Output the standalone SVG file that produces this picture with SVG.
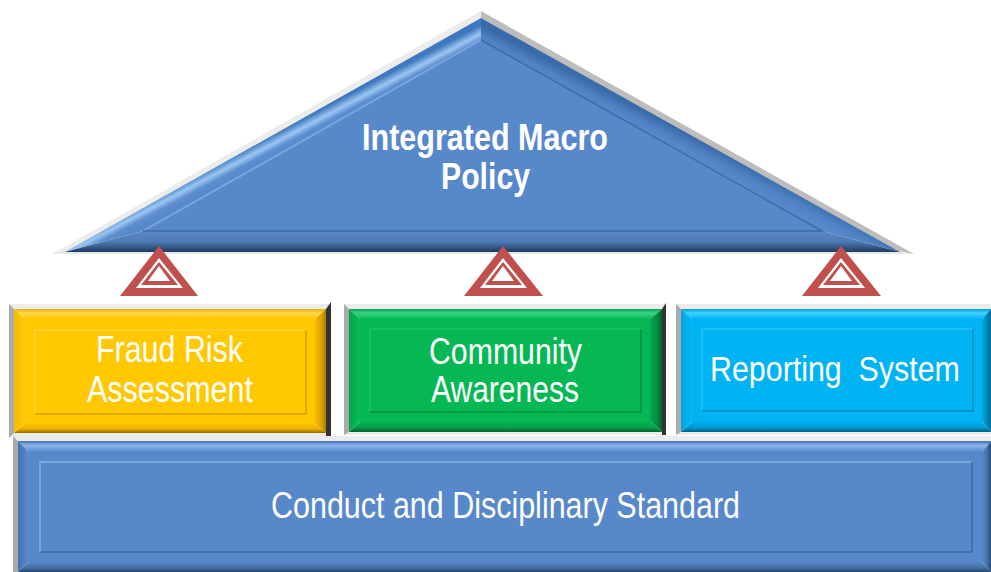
<svg xmlns="http://www.w3.org/2000/svg" width="991" height="572" viewBox="0 0 991 572">
<style>
text{font-family:"Liberation Sans Narrow","Liberation Sans",Arial,sans-serif;font-size:36px;fill:#fff;text-anchor:start}
.b{font-weight:700}
.gl{fill:#ababab}.gt{fill:#ececec}.gd{fill:#333}
.y{fill:#FFC800}.g{fill:#06B854}.c{fill:#00B3F3}.u{fill:#5788CA}
.yr{fill:none;stroke:#D99E00;stroke-width:1.5}.yh{fill:none;stroke:#FFD23A;stroke-width:1.5}
.gr{fill:none;stroke:#078A44;stroke-width:1.5}.gh{fill:none;stroke:#1CC46C;stroke-width:1.5}
.cr{fill:none;stroke:#0A8DBE;stroke-width:1.5}.ch{fill:none;stroke:#24C2F8;stroke-width:1.5}
.ur{fill:none;stroke:#3F6BA3;stroke-width:1.5}.uh{fill:none;stroke:#7CA6DC;stroke-width:2}
.w{fill:#C0504D}.wh{fill:#fff}
</style>
<defs>
<linearGradient id="yT" x1="0" y1="0" x2="0" y2="1"><stop offset="0" stop-color="#E8AE00"/><stop offset=".4" stop-color="#FFD84A"/><stop offset="1" stop-color="#FFC800"/></linearGradient>
<linearGradient id="yB" x1="0" y1="0" x2="0" y2="1"><stop offset="0" stop-color="#FFC400"/><stop offset=".6" stop-color="#EEB000"/><stop offset="1" stop-color="#8C6A00"/></linearGradient>
<linearGradient id="yL" x1="0" y1="0" x2="1" y2="0"><stop offset="0" stop-color="#F5BC00"/><stop offset="1" stop-color="#FFCA10"/></linearGradient>
<linearGradient id="yR" x1="0" y1="0" x2="1" y2="0"><stop offset="0" stop-color="#F5BC00"/><stop offset=".6" stop-color="#D9A000"/><stop offset="1" stop-color="#A67E00"/></linearGradient>
<linearGradient id="gT" x1="0" y1="0" x2="0" y2="1"><stop offset="0" stop-color="#05A24C"/><stop offset=".4" stop-color="#38D486"/><stop offset="1" stop-color="#06B854"/></linearGradient>
<linearGradient id="gB" x1="0" y1="0" x2="0" y2="1"><stop offset="0" stop-color="#06B854"/><stop offset=".6" stop-color="#059E48"/><stop offset="1" stop-color="#04602C"/></linearGradient>
<linearGradient id="gL" x1="0" y1="0" x2="1" y2="0"><stop offset="0" stop-color="#05A64C"/><stop offset="1" stop-color="#08BC58"/></linearGradient>
<linearGradient id="gR" x1="0" y1="0" x2="1" y2="0"><stop offset="0" stop-color="#06A84E"/><stop offset=".6" stop-color="#058A40"/><stop offset="1" stop-color="#03652E"/></linearGradient>
<linearGradient id="cT" x1="0" y1="0" x2="0" y2="1"><stop offset="0" stop-color="#009FD6"/><stop offset=".4" stop-color="#40D0FF"/><stop offset="1" stop-color="#00B3F3"/></linearGradient>
<linearGradient id="cB" x1="0" y1="0" x2="0" y2="1"><stop offset="0" stop-color="#00B3F3"/><stop offset=".6" stop-color="#009AD0"/><stop offset="1" stop-color="#005F82"/></linearGradient>
<linearGradient id="cL" x1="0" y1="0" x2="1" y2="0"><stop offset="0" stop-color="#00A4DC"/><stop offset="1" stop-color="#05B8F4"/></linearGradient>
<linearGradient id="cR" x1="0" y1="0" x2="1" y2="0"><stop offset="0" stop-color="#00A8E2"/><stop offset="1" stop-color="#006E96"/></linearGradient>
<linearGradient id="uT" x1="0" y1="0" x2="0" y2="1"><stop offset="0" stop-color="#3F6EAC"/><stop offset=".4" stop-color="#8DB6EC"/><stop offset="1" stop-color="#5788CA"/></linearGradient>
<linearGradient id="uB" x1="0" y1="0" x2="0" y2="1"><stop offset="0" stop-color="#5788CA"/><stop offset=".6" stop-color="#43709F"/><stop offset="1" stop-color="#25446E"/></linearGradient>
<linearGradient id="uL" x1="0" y1="0" x2="1" y2="0"><stop offset="0" stop-color="#4472AE"/><stop offset="1" stop-color="#5A8CCC"/></linearGradient>
<linearGradient id="uR" x1="0" y1="0" x2="1" y2="0"><stop offset="0" stop-color="#5788CA"/><stop offset=".5" stop-color="#4A76AE"/><stop offset="1" stop-color="#2A4C7C"/></linearGradient>
<linearGradient id="rL" gradientUnits="userSpaceOnUse" x1="273" y1="135" x2="282" y2="152"><stop offset="0" stop-color="#3F78BE"/><stop offset=".4" stop-color="#9CC6F2"/><stop offset=".7" stop-color="#5C8ED0"/><stop offset="1" stop-color="#5788CA"/></linearGradient>
<linearGradient id="rR" gradientUnits="userSpaceOnUse" x1="689" y1="135" x2="680" y2="152"><stop offset="0" stop-color="#3A6AA8"/><stop offset=".5" stop-color="#4F82C4"/><stop offset="1" stop-color="#5788CA"/></linearGradient>
<linearGradient id="rB" x1="0" y1="0" x2="0" y2="1"><stop offset="0" stop-color="#5788CA"/><stop offset=".5" stop-color="#4F7CB4"/><stop offset="1" stop-color="#1F3A60"/></linearGradient>
</defs>

<g id="roof">
<polygon class="gt" points="481,11 52,254 65,253 481,18"/>
<polygon fill="#bdbdbd" points="481,11 914,254 900,253 481,18"/>
<polygon fill="#e8e8e8" points="52,254 914,254 900,251 65,251"/>
<polygon fill="url(#rL)" points="481,18 65,252 143,231 481,40"/>
<polygon fill="url(#rR)" points="481,18 900,252 822,231 481,40"/>
<polygon fill="url(#rB)" points="65,252 900,252 822,231 143,231"/>
<polygon class="u" points="481,40 143,231 822,231"/>
<polyline class="uh" points="143,231 481,40"/>
<polyline class="ur" points="481,40 822,231 143,231"/>
<text class="b" x="362" y="150" textLength="246" lengthAdjust="spacingAndGlyphs">Integrated Macro</text>
<text class="b" x="441" y="189" textLength="89" lengthAdjust="spacingAndGlyphs">Policy</text>
</g>

<g id="support-1">
<polygon class="w" points="159,246 120,296 198,296"/>
<polygon class="wh" points="159,258 136,288 183,288"/>
<polygon class="w" points="159,262 141,285 178,285"/>
<polygon class="wh" points="159,266 148,281 170,281"/>
</g>
<g id="support-2">
<polygon class="w" points="503,246 464,296 543,296"/>
<polygon class="wh" points="503,258 480,288 527,288"/>
<polygon class="w" points="503,262 485,285 522,285"/>
<polygon class="wh" points="503,266 492,281 514,281"/>
</g>
<g id="support-3">
<polygon class="w" points="841,246 802,296 881,296"/>
<polygon class="wh" points="841,258 818,288 865,288"/>
<polygon class="w" points="841,262 823,285 860,285"/>
<polygon class="wh" points="841,266 830,281 852,281"/>
</g>

<g id="fraud-risk">
<polygon class="gt" points="9,304 331,304 326,309 14,309"/>
<polygon class="gt" points="9,437 331,437 326,433 14,433"/>
<polygon class="gl" points="9,304 14,309 14,433 9,438"/>
<polygon class="gd" points="331,302 331,436 326,436 326,309"/>
<polygon fill="url(#yT)" points="14,309 326,309 315,319 25,319"/>
<polygon fill="url(#yB)" points="14,433 326,433 315,423 25,423"/>
<polygon fill="url(#yL)" points="14,309 25,319 25,423 14,433"/>
<polygon fill="url(#yR)" points="326,309 315,319 315,423 326,433"/>
<rect class="y" x="25" y="319" width="290" height="104"/>
<polyline class="yh" points="35,414 35,330 306,330"/>
<polyline class="yr" points="306,330 306,414 35,414"/>
<text x="96" y="362" textLength="147" lengthAdjust="spacingAndGlyphs">Fraud Risk</text>
<text x="87" y="402" textLength="166" lengthAdjust="spacingAndGlyphs">Assessment</text>
</g>

<g id="community">
<polygon class="gt" points="344,304 666,304 662,309 349,309"/>
<polygon class="gt" points="344,435 666,435 662,432 349,432"/>
<polygon class="gl" points="344,304 349,309 349,432 344,435"/>
<polygon class="gd" points="666,303 666,435 662,435 662,309"/>
<polygon fill="url(#gT)" points="349,309 662,309 650,319 360,319"/>
<polygon fill="url(#gB)" points="349,432 662,432 650,421 360,421"/>
<polygon fill="url(#gL)" points="349,309 360,319 360,421 349,432"/>
<polygon fill="url(#gR)" points="662,309 650,319 650,421 662,432"/>
<rect class="g" x="360" y="319" width="290" height="102"/>
<polyline class="gh" points="370,412 370,329 641,329"/>
<polyline class="gr" points="641,329 641,412 370,412"/>
<text x="429" y="364" textLength="153" lengthAdjust="spacingAndGlyphs">Community</text>
<text x="431" y="402" textLength="148" lengthAdjust="spacingAndGlyphs">Awareness</text>
</g>

<g id="reporting">
<polygon class="gt" points="676,304 991,304 991,309 681,309"/>
<polygon class="gt" points="676,435 991,435 991,432 681,432"/>
<polygon class="gl" points="676,304 681,309 681,432 676,435"/>
<polygon fill="url(#cT)" points="681,309 991,309 982,319 692,319"/>
<polygon fill="url(#cB)" points="681,432 991,432 982,421 692,421"/>
<polygon fill="url(#cL)" points="681,309 692,319 692,421 681,432"/>
<polygon fill="url(#cR)" points="991,309 982,319 982,421 991,432"/>
<rect class="c" x="692" y="319" width="290" height="102"/>
<polyline class="ch" points="702,411 702,329 973,329"/>
<polyline class="cr" points="973,329 973,411 702,411"/>
<text transform="translate(710 381) scale(.85 1)" x="0" y="0" textLength="294" lengthAdjust="spacingAndGlyphs">Reporting&#160; System</text>
</g>

<g id="conduct">
<polygon class="gt" points="13,436 991,436 991,441 18,441"/>
<polygon class="gl" points="13,436 18,441 18,572 13,572"/>
<polygon fill="url(#uT)" points="18,441 991,441 982,452 29,452"/>
<polygon fill="url(#uB)" points="18,572 991,572 982,562 29,562"/>
<polygon fill="url(#uL)" points="18,441 29,452 29,562 18,572"/>
<polygon fill="url(#uR)" points="991,441 982,452 982,562 991,572"/>
<rect class="u" x="29" y="452" width="953" height="110"/>
<polyline class="uh" points="40,552 40,462 972,462"/>
<polyline class="ur" points="972,462 972,552 40,552"/>
<text x="271" y="518" textLength="469" lengthAdjust="spacingAndGlyphs">Conduct and Disciplinary Standard</text>
</g>
</svg>
